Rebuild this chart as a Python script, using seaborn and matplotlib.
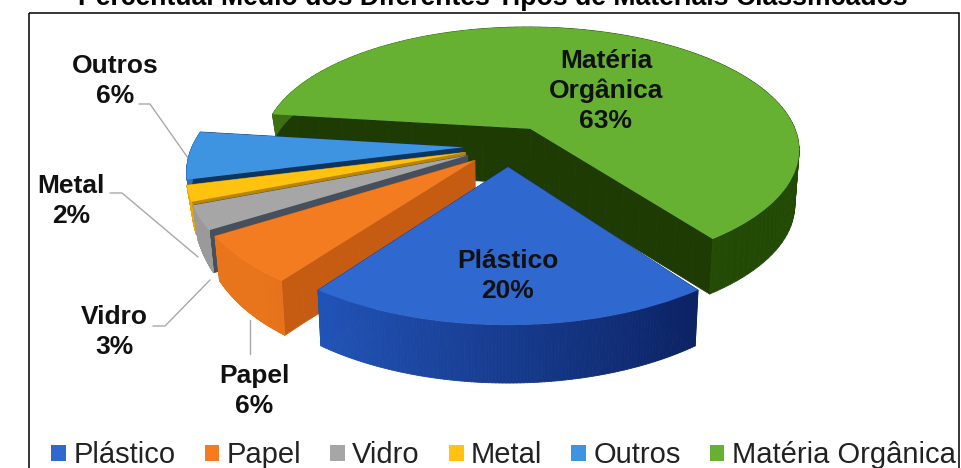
import numpy as np
import matplotlib
matplotlib.use("Agg")
import matplotlib.pyplot as plt
import matplotlib.transforms as mtransforms
from matplotlib.collections import PolyCollection
from matplotlib.colors import to_rgb
from matplotlib.patches import Rectangle
import seaborn as sns

materiais = ["Plástico", "Papel", "Vidro", "Metal", "Outros", "Matéria Orgânica"]
percentuais = [20, 6, 3, 2, 6, 63]
rotulos = ["Plástico", "Papel", "Vidro", "Metal", "Outros", "Matéria\nOrgânica"]
titulo = "Percentual Médio dos Diferentes Tipos de Materiais Classificados"

cores_topo = ["#2f68cf", "#f47c20", "#a6a6a6", "#ffc20e", "#3f94e2", "#66b032"]
cores_raio = ["#163a8c", "#c65c12", "#45505c", "#b98500", "#0c3560", "#1d3b03"]
cores_borda_esq = ["#2357bd", "#e8741c", "#9a9a9a", "#e8a800", "#2a70b8", "#3c7010"]
cores_borda_dir = ["#0a1f5e", "#c75f14", "#6e6e6e", "#b98500", "#0c3560", "#234a05"]

# perspective of the pie plane, fitted to the picture (pixels)
XC, YC, A, B, K = 508, 146, 271, 124, 0.166
EXPLODE = 0.165


class Perspectiva(mtransforms.Transform):
    input_dims = output_dims = 2

    def __init__(self, base=False):
        super().__init__()
        self.base = base

    def transform_non_affine(self, pts):
        pts = np.asarray(pts, dtype=float)
        u, v = pts[:, 0], pts[:, 1]
        w = 1 + K * v
        x = XC + A * u / w
        y = YC - B * v / w
        if self.base:
            x = XC + (x - XC) * 0.985
            # the wall gets thinner towards the far left of the pie
            perda = 73 * np.maximum(0, -u - 0.55) * np.maximum(0, v + 1)
            y = y + 55 - perda + 3 * np.maximum(0, -v - 0.9) / 0.27
        return np.column_stack([x, y])


sns.set_theme(style="white")
plt.rcParams["font.family"] = ["Liberation Sans", "DejaVu Sans"]

fig = plt.figure(figsize=(9.61, 4.68), dpi=100)
ax = fig.add_axes([0, 0, 1, 1])

wedges, _ = ax.pie(percentuais, colors=sns.color_palette(cores_topo),
                   startangle=-54, counterclock=False,
                   explode=[EXPLODE] * len(percentuais),
                   wedgeprops={"linewidth": 0, "edgecolor": "none"})
ax.set_aspect("auto")
ax.set_xlim(0, 961)
ax.set_ylim(468, 0)
ax.axis("off")

topo = Perspectiva()
base = Perspectiva(base=True)


def paredes(pontos, cores, z):
    a = topo.transform_non_affine(pontos)
    b = base.transform_non_affine(pontos)
    quads = [[a[i], a[i + 1], b[i + 1], b[i]] for i in range(len(pontos) - 1)]
    ax.add_collection(PolyCollection(quads, facecolors=cores, edgecolors=cores,
                                     linewidths=0.6, zorder=z))


# back to front: matéria orgânica first, plástico last
ordem = [5, 4, 3, 2, 1, 0]
for z, i in enumerate(ordem):
    w = wedges[i]
    cx, cy = w.center
    th = np.radians(np.linspace(w.theta1, w.theta2, 120))
    arco = np.column_stack([cx + w.r * np.cos(th), cy + w.r * np.sin(th)])
    apice = np.array([cx, cy])
    for ponta in (arco[0], arco[-1]):
        raio = apice + np.linspace(0, 1, 12)[:, None] * (ponta - apice)
        paredes(raio, cores_raio[i], 10 + 3 * z)
    t = np.clip(0.5 + 0.75 * np.cos(th[:-1]), 0, 1)[:, None]
    cores = (1 - t) * np.array(to_rgb(cores_borda_esq[i])) + t * np.array(to_rgb(cores_borda_dir[i]))
    paredes(arco, cores, 11 + 3 * z)
    w.set_transform(topo + ax.transData)
    w.set_zorder(12 + 3 * z)

# frame and title
ax.add_patch(Rectangle((29, 13), 930, 480, fill=False, ec="black", lw=1.1, zorder=1))
ax.text(493, 5, titulo, ha="center", va="baseline", fontsize=19.2,
        fontweight="bold", color="black")

# labels
pos_rotulos = [(508, 276), (254, 391), (114, 332), (71, 201), (115, 81), (606, 91)]
for i, (x, y) in enumerate(pos_rotulos):
    ax.text(x, y, f"{rotulos[i]}\n{percentuais[i]}%", ha="center", va="center",
            fontsize=19, fontweight="bold", color="#111111", linespacing=1.32, zorder=40)

# leader lines
guias = [
    ([139, 150, 188], [104, 104, 158]),
    ([110, 122, 198], [193, 193, 257]),
    ([153, 165, 210], [326, 326, 280]),
    ([250, 250], [354, 320]),
]
for xs, ys in guias:
    ax.plot(xs, ys, color="#a8a8a8", lw=1.0, zorder=5)

# legend
alcas = [Rectangle((0, 0), 1, 1, fc=c, ec="none") for c in cores_topo]
ax.legend(alcas, materiais, ncol=6, frameon=False, fontsize=21,
          loc="lower left", bbox_to_anchor=(50 / 961, -0.006), borderaxespad=0, borderpad=0.05,
          handlelength=0.5, handleheight=0.5, handletextpad=0.25, columnspacing=1.0,
          labelcolor="#222222")

fig.savefig("out.png", dpi=100, facecolor="white")
